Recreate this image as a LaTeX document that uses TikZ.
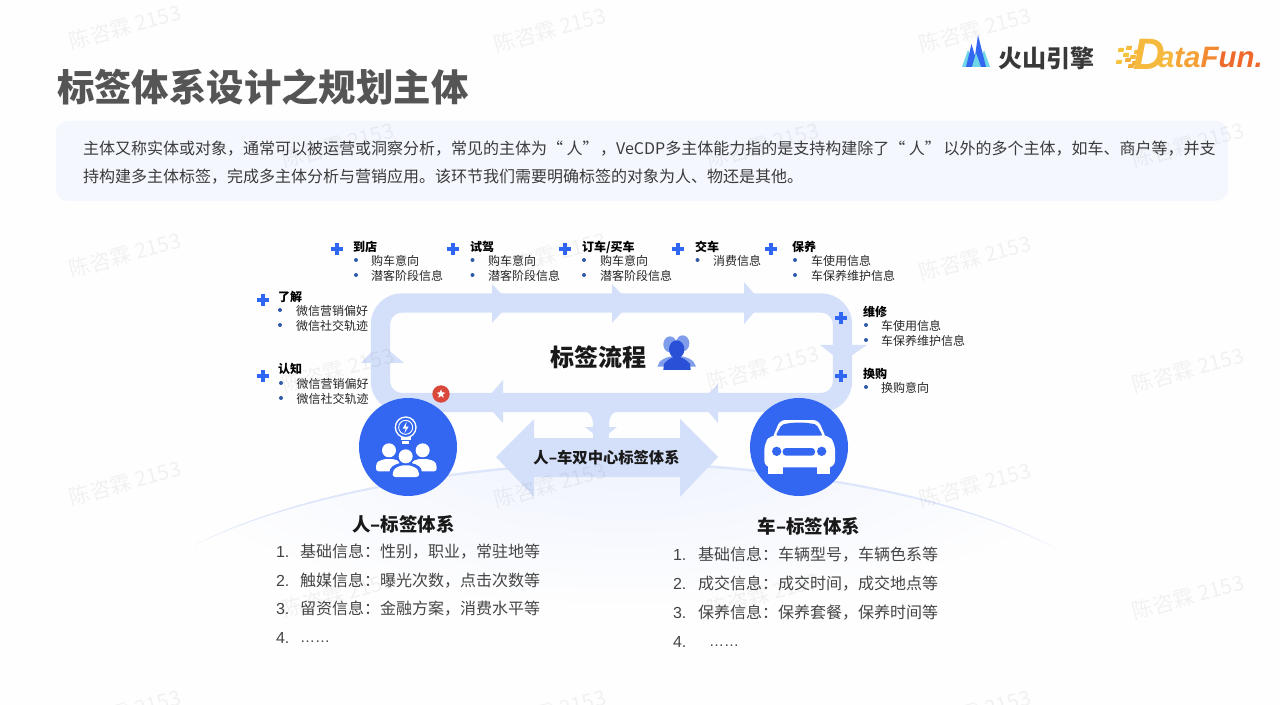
\documentclass[tikz,border=0pt]{standalone}
\usepackage{fontspec}
\setmainfont{Noto Sans CJK SC}
\newfontfamily\latinf{Liberation Sans}
\usetikzlibrary{shapes.geometric,calc}
\definecolor{ringc}{HTML}{D4E0FA}
\definecolor{blue1}{HTML}{3367F2}
\definecolor{plusc}{HTML}{2F66F2}
\definecolor{dotc}{HTML}{2F5AA8}
\definecolor{panel}{HTML}{F4F7FE}
\definecolor{titlec}{HTML}{555555}
\definecolor{bodyc}{HTML}{3A3A3A}
\definecolor{listc}{HTML}{444444}
\definecolor{badgec}{HTML}{D9483B}
\definecolor{tealc}{HTML}{6FD6E8}
\definecolor{flowa}{HTML}{2A50D8}
\definecolor{flowb}{HTML}{7F9DEB}
\definecolor{hilla}{HTML}{EFF3FE}
\definecolor{pagec}{HTML}{FEFEFE}
\newcommand{\fs}[1]{\fontsize{\fpeval{#1*0.75}}{\fpeval{#1*0.9}}\selectfont}
\tikzset{
  txt/.style={anchor=west,inner sep=0pt,outer sep=0pt,yshift=-0.75pt},
  ctr/.style={anchor=center,inner sep=0pt,outer sep=0pt,yshift=-0.75pt},
  small/.style={txt,font=\fs{12},text=black!85},
  head/.style={txt,font=\fs{12}\bfseries,text=black},
  listt/.style={txt,font=\fs{16},text=listc},
  numt/.style={txt,font=\latinf\fs{16},text=listc},
  plusmark/.style={draw=plusc,line width=3pt},
  ringfill/.style={fill=ringc,draw=none},
  bul/.style={circle,fill=dotc,inner sep=0pt,minimum size=3pt},
  wm/.style={anchor=center,inner sep=0pt,rotate=15,font=\fs{21},text=black,opacity=.05}
}
\newcommand{\plusat}[2]{%
  \draw[plusmark] ([xshift=-4.7pt]#1,#2) -- ([xshift=4.7pt]#1,#2);
  \draw[plusmark] ([yshift=-4.7pt]#1,#2) -- ([yshift=4.7pt]#1,#2);}
\newcounter{itm}
\newcommand{\itemat}[4]{% bullet x, text x, y, text
  \stepcounter{itm}%
  \node[bul] (b\theitm) at (#1,#3) {};
  \node[small] (t\theitm) at (#2,#3) {#4};}
\begin{document}
\begin{tikzpicture}[x=0.75pt,y=-0.75pt]
\useasboundingbox (0,0) rectangle (1280,705);
\fill[pagec] (0,0) rectangle (1280,705);
% hill
\begin{scope}
  \clip (195,545) .. controls (300,490) and (480,462) .. (620,462)
  .. controls (760,462) and (950,490) .. (1055,548) -- (1055,620) -- (195,620) -- cycle;
  \shade[inner color=hilla,outer color=pagec,draw=none] (625,455) ellipse [x radius=480, y radius=155];
\end{scope}
\fill[ringc!80]
  (195,545) .. controls (300,490) and (480,462) .. (620,462)
  .. controls (760,462) and (950,490) .. (1055,548)
  .. controls (950,492.5) and (760,464.5) .. (620,464.5)
  .. controls (480,464.5) and (300,492.5) .. (195,545) -- cycle;
% title + panel
\node[txt,font=\fs{37.4}\bfseries,text=titlec] (title) at (57,86) {标签体系设计之规划主体};
\fill[panel,rounded corners=9pt] (56,121) rectangle (1228,201);
\node[txt,font=\fs{16},text=bodyc] (p1) at (83,148) {主体又称实体或对象，通常可以被运营或洞察分析，常见的主体为“ 人”\hspace{1.2pt}，VeCDP多主体能力指的是支持构建除了“ 人”\hspace{2pt}以外的多个主体，如车、商户等，并支};
\node[txt,font=\fs{16},text=bodyc] (p2) at (83,176) {持构建多主体标签，完成多主体分析与营销应用。该环节我们需要明确标签的对象为人、物还是其他。};
% logos
\fill[tealc] (962,67) -- (968,50) -- (975,67) -- cycle;
\fill[tealc] (978,67) -- (984,50) -- (990,67) -- cycle;
\fill[blue1] (966,67) -- (971.5,44) -- (975,56) -- (978,35) -- (986,67) -- cycle;
\fill[tealc] (972,67) -- (976,53) -- (981,67) -- cycle;
\node[txt,font=\fs{24}\bfseries,text=black!78] (volc) at (998,57) {火山引擎};
\foreach \x/\y/\c in {1121/50/F5C23E,1129/48/F5B93E,1137/52/F5B93E,1126/55/F5C23E,1133/57/F5B93E,1119/62/F5C23E,1128/60/F2AE35,1135/63/F2AE35,1131/66/F2AE35}{
  \definecolor{tmpc}{HTML}{\c}\fill[tmpc] (\x-2.5,\y-2) -- (\x+3,\y-2) -- (\x+2.5,\y+2) -- (\x-3,\y+2) -- cycle;}
\definecolor{dfa}{HTML}{F5B93E}\definecolor{dfb}{HTML}{F4A035}\definecolor{dfc}{HTML}{EE6A2C}
\node[ctr,font=\latinf\fs{44}\bfseries\itshape,text=dfa] (dfD) at (1149,53) {D};
\node[txt,font=\latinf\fs{29.5}\bfseries\itshape] (dfT) at (1158,57) {\textcolor{dfa}{a}\textcolor{dfb!85!dfa}{t}\textcolor{dfb}{a}\textcolor{dfb!60!dfc}{F}\textcolor{dfc}{un.}};
% ring
\draw[ringc,line width=14.5pt,rounded corners=16pt] (380.5,303) rectangle (842.5,402.5);
% top arrowheads
\fill[ringfill] (492,284) -- (510,303) -- (492,323) -- cycle;
\fill[ringfill] (612,284) -- (630,303) -- (612,323) -- cycle;
\fill[ringfill] (744,282) -- (762,303) -- (744,324) -- cycle;
% left up
\fill[ringfill] (361,363) -- (380,343) -- (404,363) -- cycle;
% right down
\fill[ringfill] (820,345) -- (867,345) -- (842,362) -- cycle;
% bottom left arrowheads
\fill[ringfill] (503,380) -- (503,423) -- (484,402) -- cycle;
\fill[ringfill] (718,384) -- (718,423) -- (700,402) -- cycle;
% stem
\fill[ringfill] (593,408) rectangle (609,440);
\fill[ringfill] (580,411) .. controls (590,411) and (593,416) .. (593,426) -- (593,411) -- cycle;
\fill[ringfill] (622,411) .. controls (612,411) and (609,416) .. (609,426) -- (609,411) -- cycle;
\fill[ringfill] (585,427) -- (617,427) -- (601,440) -- cycle;
% double arrow
\fill[ringfill] (496,457) -- (534,419) -- (534,438) -- (680,438) -- (680,419) -- (718,457) -- (680,497) -- (680,477) -- (534,477) -- (534,497) -- cycle;
\node[ctr,font=\fs{15.3}\bfseries,text=black!90] (dual) at (606.5,457) {人–车双中心标签体系};
% circles
\node[circle,fill=blue1,minimum size=73.5pt,inner sep=0pt] (cp) at (408,447) {};
\node[circle,fill=blue1,minimum size=73.5pt,inner sep=0pt] (cc) at (799,447) {};
% star badge
\node[circle,fill=badgec,minimum size=13pt,inner sep=0pt] (badge) at (441,394) {};
\node[star,star points=5,star point ratio=2.4,fill=white,minimum size=7pt,inner sep=0pt] (bstar) at (441,394) {};
% people icon (zoom units)
\begin{scope}[shift={(180pt,-172.5pt)},x=.25pt,y=-.25pt]
  \draw[white,line width=1pt] (497,592) circle (31);
  \draw[white,line width=.7pt] (497,592) circle (21);
  \fill[white] (482,622) rectangle (512,630);
  \fill[white] (487,634) rectangle (507,641);
  \fill[white] (500,575) -- (488,596) -- (497,596) -- (493,610) -- (506,590) -- (497,590) -- cycle;
  \fill[white] (447,661) circle (21);
  \fill[white] (548,661) circle (21);
  \fill[white,rounded corners=2pt] (408,724) -- (408,708) .. controls (412,692) and (435,687) .. (447,687) .. controls (460,687) and (480,692) .. (490,708) -- (490,724) -- cycle;
  \fill[white,rounded corners=2pt] (505,724) -- (505,708) .. controls (515,692) and (535,687) .. (548,687) .. controls (565,687) and (585,692) .. (590,708) -- (590,724) -- cycle;
  \fill[blue1] (497,679) circle (27);
  \fill[blue1,rounded corners=2pt] (448,748) -- (448,725) .. controls (455,705) and (480,698) .. (497,698) .. controls (515,698) and (540,705) .. (546,725) -- (546,748) -- cycle;
  \fill[white] (497,679) circle (21);
  \fill[white,rounded corners=2pt] (458,741) -- (458,728) .. controls (465,712) and (485,706) .. (497,706) .. controls (510,706) and (530,712) .. (537,728) -- (537,741) -- cycle;
\end{scope}
% car icon (zoom units)
\begin{scope}[shift={(420pt,-172.5pt)},x=.25pt,y=-.25pt]
  \fill[white,rounded corners=4pt] (636,628) -- (660,570) -- (775,570) -- (800,628) -- cycle;
  \fill[white,rounded corners=5pt] (613,712) -- (613,640) -- (632,615) -- (805,615) -- (825,640) -- (825,712) -- cycle;
  \fill[white] (625,700) rectangle (668,732);
  \fill[white] (770,700) rectangle (810,732);
  \fill[blue1,rounded corners=1.5pt] (647,617) -- (665,584) .. controls (700,576) and (735,576) .. (770,584) -- (788,617) -- cycle;
  \fill[blue1] (650,664) circle (14);
  \fill[blue1] (785,664) circle (14);
  \fill[blue1,rounded corners=2.5pt] (668,654) rectangle (765,677);
  % flow icon
  \fill[flowb] (368,340) ellipse [x radius=20, y radius=24];
  \fill[flowb] (330,343) ellipse [x radius=20, y radius=24];
  \fill[flowb] (292,410) .. controls (296,390) and (320,378) .. (350,378) .. controls (380,378) and (404,390) .. (408,410) -- cycle;
  \fill[flowa] (350,358) ellipse [x radius=23, y radius=27];
  \fill[flowa] (310,420) -- (312,402) .. controls (322,390) and (335,380) .. (350,380) .. controls (365,380) and (380,390) .. (390,402) -- (392,420) -- cycle;
\end{scope}
\node[txt,font=\fs{24}\bfseries,text=black!90] (flow) at (550,356) {标签流程};
% plus marks
\plusat{337}{249}\plusat{453}{249}\plusat{565}{249}\plusat{678}{249}\plusat{771}{249}
\plusat{263}{300}\plusat{263}{376}\plusat{841}{318}\plusat{841}{376}
% item labels
\node[head] (h1) at (353,246) {到店};
\itemat{356}{371}{260}{购车意向}\itemat{356}{371}{275}{潜客阶段信息}
\node[head] (h2) at (470,246) {试驾};
\itemat{472.5}{488}{260}{购车意向}\itemat{472.5}{488}{275}{潜客阶段信息}
\node[head] (h3) at (582,246) {订车/买车};
\itemat{584}{600}{260}{购车意向}\itemat{584}{600}{275}{潜客阶段信息}
\node[head] (h4) at (695,246) {交车};
\itemat{697.5}{713}{260}{消费信息}
\node[head] (h5) at (792,246) {保养};
\itemat{795}{811}{260}{车使用信息}\itemat{795}{811}{275}{车保养维护信息}
\node[head] (h6) at (278,296) {了解};
\itemat{280}{296}{310}{微信营销偏好}\itemat{280}{296}{325}{微信社交轨迹}
\node[head] (h7) at (278,368) {认知};
\itemat{281}{296.5}{383}{微信营销偏好}\itemat{281}{296.5}{398}{微信社交轨迹}
\node[head] (h8) at (863,311) {维修};
\itemat{866}{881}{325}{车使用信息}\itemat{866}{881}{340}{车保养维护信息}
\node[head] (h9) at (863,373) {换购};
\itemat{866}{881}{387}{换购意向}
% system titles
\node[ctr,font=\fs{18.5}\bfseries,text=black!90] (ps) at (403.5,523) {人–标签体系};
\node[ctr,font=\fs{18.5}\bfseries,text=black!90] (cs) at (809,525) {车–标签体系};
% lists
\node[numt] (n1) at (276,551) {1.}; \node[listt] (l1) at (300,551) {基础信息：性别，职业，常驻地等};
\node[numt] (n2) at (276,580) {2.}; \node[listt] (l2) at (300,580) {触媒信息：曝光次数，点击次数等};
\node[numt] (n3) at (276,608) {3.}; \node[listt] (l3) at (300,608) {留资信息：金融方案，消费水平等};
\node[numt] (n4) at (276,637) {4.}; \node[txt,font=\latinf\fs{15},text=listc] (l4) at (300,641) {……};
\node[numt] (m1) at (673,554) {1.}; \node[listt] (r1) at (698,554) {基础信息：车辆型号，车辆色系等};
\node[numt] (m2) at (673,583) {2.}; \node[listt] (r2) at (698,583) {成交信息：成交时间，成交地点等};
\node[numt] (m3) at (673,612) {3.}; \node[listt] (r3) at (698,612) {保养信息：保养套餐，保养时间等};
\node[numt] (m4) at (673,641) {4.}; \node[txt,font=\latinf\fs{15},text=listc] (r4) at (709,645) {……};
% watermarks
\foreach \i/\x/\y in {1/125/27,2/550/30,3/975/30,4/338/145,5/763/145,6/1188/145,7/125/255,8/550/255,9/975/258,10/338/370,11/763/368,12/1188/370,13/125/483,14/550/485,15/975/485,16/338/595,17/763/595,18/1188/597,19/125/712,20/550/712,21/975/712}{
  \node[wm] (w\i) at (\x,\y) {陈咨霖 2153};}
\end{tikzpicture}
\end{document}
